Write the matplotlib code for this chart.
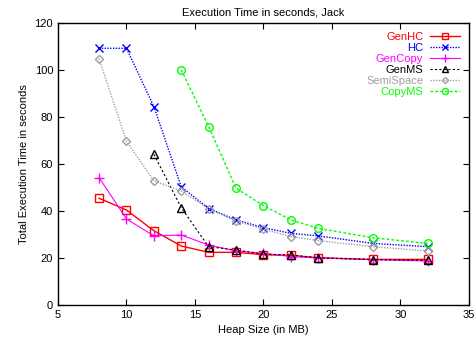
import matplotlib
matplotlib.use("Agg")
import matplotlib.pyplot as plt

heap = [8, 10, 12, 14, 16, 18, 20, 22, 24, 28, 32]
genhc = [45.4, 40.4, 31.6, 25.1, 22.4, 22.4, 21.4, 21.1, 20.1, 19.4, 19.4]
hc = [109.2, 109.2, 84.4, 50.3, 41.0, 36.2, 32.9, 30.5, 29.4, 26.2, 24.8]
gencopy = [54.2, 36.6, 29.4, 29.8, 25.5, 23.0, 22.0, 20.6, 20.0, 19.3, 18.7]
genms_x = [12, 14, 16, 18, 20, 22, 24, 28, 32]
genms = [64.1, 41.4, 24.8, 23.4, 21.6, 21.3, 20.1, 19.3, 19.0]
semispace = [104.7, 69.6, 52.8, 48.5, 41.0, 35.7, 32.3, 29.1, 27.4, 24.8, 23.0]
copyms_x = [14, 16, 18, 20, 22, 24, 28, 32]
copyms = [100.0, 75.9, 49.7, 42.3, 36.2, 32.6, 28.6, 26.2]

plt.rcParams['font.family'] = ['Liberation Sans', 'DejaVu Sans']

fig = plt.figure(figsize=(4.77, 3.47), dpi=100)
ax = fig.add_axes([0.1216, 0.121, 0.8614, 0.813])

ms = 5.5
ax.plot(heap, genhc, color='#ff0000', ls='-', lw=1, marker='s', mfc='none', ms=ms, mew=1, label='GenHC')
ax.plot(heap, hc, color='#0000ff', ls=(0, (1, 1)), lw=1, marker='x', ms=ms, mew=1, label='HC')
ax.plot(heap, gencopy, color='#ff00ff', ls='-', lw=0.8, marker='+', ms=ms+1, mew=1, label='GenCopy')
ax.plot(genms_x, genms, color='#000000', ls=(0, (2, 2)), lw=0.8, marker='^', mfc='none', ms=ms, mew=1, label='GenMS')
ax.plot(heap, semispace, color='#a0a0a0', ls=(0, (1, 1)), lw=1, marker='D', mfc='none', ms=ms-1.5, mew=1, label='SemiSpace')
ax.plot(copyms_x, copyms, color='#00ff00', ls=(0, (2, 1.5)), lw=1, marker='o', mfc='none', ms=ms, mew=1, label='CopyMS')

ax.set_xlim(5, 35)
ax.set_ylim(0, 120)
ax.set_xticks([5, 10, 15, 20, 25, 30, 35])
ax.set_yticks([0, 20, 40, 60, 80, 100, 120])
ax.tick_params(direction='in', top=True, right=True, labelsize=8, length=4, width=0.8)
for s in ax.spines.values():
    s.set_linewidth(1)

ax.set_xlabel('Heap Size (in MB)', fontsize=8)
ax.set_ylabel('Total Execution Time in seconds', fontsize=8)
ax.set_title('Execution Time in seconds, Jack', fontsize=8, pad=5)

leg = ax.legend(loc='upper right', markerfirst=False, frameon=False, fontsize=8,
                labelcolor='linecolor', handlelength=2.7, labelspacing=0.1,
                borderaxespad=0.4, handletextpad=0.6, markerscale=0.8)

fig.savefig('out.png', dpi=100)
